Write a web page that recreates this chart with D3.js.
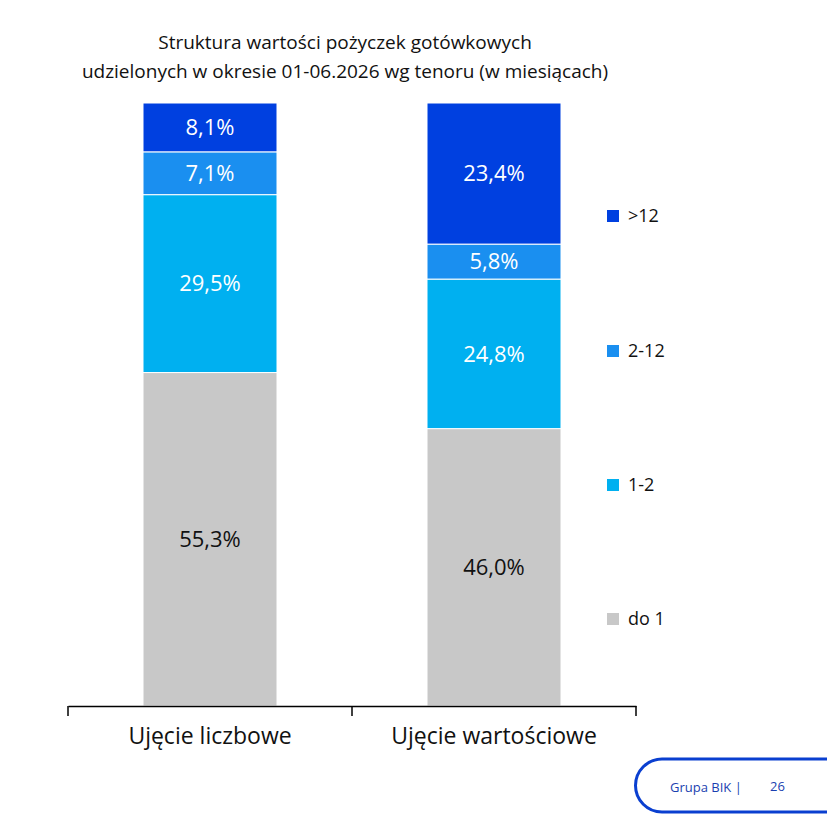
<!DOCTYPE html>
<html><head><meta charset="utf-8">
<script src="https://cdn.jsdelivr.net/npm/d3@7"></script>
<style>body{margin:0;background:#fff;font-family:"Open Sans",sans-serif}</style>
</head><body><div id="chart"></div>
<script>
const categories = ['Ujęcie liczbowe', 'Ujęcie wartościowe'];
const seriesNames = ['do 1', '1-2', '2-12', '>12'];
const doJeden = [55.3, 46.0];
const jedenDwa = [29.5, 24.8];
const dwaDwanascie = [7.1, 5.8];
const ponadDwanascie = [8.1, 23.4];
const colors = ['#c8c8c8', '#00b0f0', '#1a8ff0', '#0040e0'];

const W = 827, H = 828;
const svg = d3.select('#chart').append('svg').attr('width', W).attr('height', H);

// title
svg.append('text').attr('x', 345).attr('y', 49).attr('text-anchor', 'middle')
  .attr('font-size', 19).attr('fill', '#111').text('Struktura wartości pożyczek gotówkowych');
svg.append('text').attr('x', 345).attr('y', 78).attr('text-anchor', 'middle')
  .attr('font-size', 19).attr('fill', '#111').text('udzielonych w okresie 01-06.2026 wg tenoru (w miesiącach)');

const x = d3.scaleBand().domain(categories).range([68, 636]).paddingInner(0).paddingOuter(0);
const y = d3.scaleLinear().domain([0, 100]).range([706, 103]);
const barW = 134;

const rows = categories.map((c, i) => ({
  cat: c, 'do 1': doJeden[i], '1-2': jedenDwa[i], '2-12': dwaDwanascie[i], '>12': ponadDwanascie[i]
}));
const stack = d3.stack().keys(seriesNames)(rows);

stack.forEach((layer, li) => {
  const g = svg.append('g');
  layer.forEach(d => {
    const cx = x(d.data.cat) + x.bandwidth() / 2;
    g.append('rect').attr('x', cx - barW / 2).attr('width', barW)
      .attr('y', y(d[1])).attr('height', y(d[0]) - y(d[1]))
      .attr('fill', colors[li]).attr('stroke', '#fff').attr('stroke-width', 1);
    g.append('text').attr('x', cx).attr('y', (y(d[0]) + y(d[1])) / 2)
      .attr('dy', '0.35em').attr('text-anchor', 'middle').attr('font-size', 22)
      .attr('fill', li === 0 ? '#111' : '#fff')
      .text(d3.format('.1f')(d[1] - d[0]).replace('.', ',') + '%');
  });
});

// axis
const axis = svg.append('g').attr('transform', 'translate(0,706)')
  .call(d3.axisBottom(x).tickSize(0).tickPadding(22));
axis.select('.domain').attr('stroke', '#000').attr('stroke-width', 1.5);
axis.selectAll('text').attr('font-size', 23).attr('fill', '#111').attr('font-family', '"Open Sans",sans-serif');
[68, 352, 636].forEach(px => svg.append('line').attr('x1', px).attr('x2', px)
  .attr('y1', 706).attr('y2', 716).attr('stroke', '#000').attr('stroke-width', 1.5));

// legend
const legY = [619, 485, 351, 216];
seriesNames.forEach((s, i) => {
  svg.append('rect').attr('x', 607).attr('y', legY[i] - 6).attr('width', 12).attr('height', 12).attr('fill', colors[i]);
  svg.append('text').attr('x', 628).attr('y', legY[i]).attr('dy', '0.35em')
    .attr('font-size', 18).attr('fill', '#111').text(s);
});

// badge
svg.append('path').attr('d', 'M 840 759 L 662 759 A 23 23 0 0 0 662 812 L 840 812 Z')
  .attr('fill', '#fff').attr('stroke', '#0a3fd0').attr('stroke-width', 3);
svg.append('text').attr('x', 670).attr('y', 787).attr('dy', '0.35em').attr('font-size', 13)
  .attr('fill', '#1a3fb0').text('Grupa BIK |');
svg.append('text').attr('x', 770).attr('y', 786).attr('dy', '0.35em').attr('font-size', 13)
  .attr('fill', '#1a3fb0').text('26');
</script></body></html>
